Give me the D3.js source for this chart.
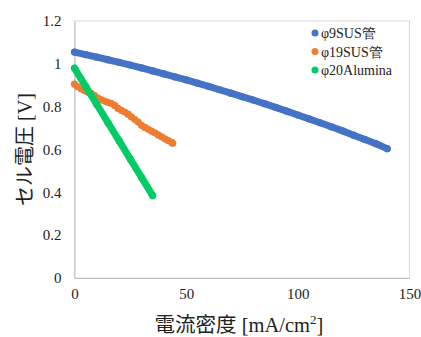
<!DOCTYPE html>
<html><head><meta charset="utf-8">
<script src="https://cdn.jsdelivr.net/npm/d3@7"></script>
<style>body{margin:0;background:#fff}
.serif{font-family:"Liberation Serif","Times New Roman",serif}
.jp{font-family:"Noto Sans CJK JP",sans-serif}
</style>
</head><body>
<svg id="c" width="421" height="337"></svg>
<script>
const seriesNames = ["φ9SUS管", "φ19SUS管", "φ20Alumina"];
const seriesColors = ["#4472C4", "#ED7D31", "#00CC66"];
const blueX = [0,5,10,15,20,25,30,35,40,45,50,55,60,65,70,75,80,85,90,95,100,105,110,115,120,125,130,135,140];
const blueY = [1.055,1.043,1.031,1.019,1.007,0.994,0.981,0.967,0.953,0.939,0.925,0.910,0.895,0.879,0.863,0.847,0.831,0.814,0.797,0.779,0.761,0.743,0.725,0.706,0.687,0.667,0.647,0.627,0.604];
const orangeX = [0,1.5,3,4.5,6,7.5,9,10.5,12,13.5,15,16.5,18,19.5,21,22.5,24,25.5,27,28.5,30,31.5,33,34.5,36,37.5,39,40.5,42,43.5,44];
const orangeY = [0.905,0.893,0.883,0.875,0.868,0.862,0.852,0.840,0.832,0.826,0.820,0.815,0.806,0.792,0.783,0.775,0.765,0.752,0.740,0.728,0.713,0.703,0.694,0.686,0.678,0.668,0.659,0.650,0.641,0.633,0.629];
const greenX = [0,5,10,15,20,25,30,35];
const greenY = [0.980,0.895,0.810,0.725,0.640,0.555,0.470,0.385];
const xTicks = [0,50,100,150];
const yTicks = [0,0.2,0.4,0.6,0.8,1,1.2];

const svg = d3.select("#c");
const L = 74.5, R = 409.5, T = 21, B = 278;
const x = d3.scaleLinear().domain([0,150]).range([L,R]);
const y = d3.scaleLinear().domain([0,1.2]).range([B,T]);

svg.append("rect").attr("x",L).attr("y",T).attr("width",R-L).attr("height",B-T)
  .attr("fill","none").attr("stroke","#d9d9d9").attr("stroke-width",1);

const xa = svg.append("g").attr("transform",`translate(0,${B})`)
  .call(d3.axisBottom(x).tickValues(xTicks).tickSize(0).tickPadding(10).tickFormat(d3.format("d")));
const ya = svg.append("g").attr("transform",`translate(${L},0)`)
  .call(d3.axisLeft(y).tickValues(yTicks).tickSize(0).tickPadding(13).tickFormat(d=>String(d)));
[xa,ya].forEach(a=>{
  a.attr("font-family",null).attr("font-size",null);
  a.select(".domain").attr("stroke","#bfbfbf");
  a.selectAll("text").attr("class","serif").style("font-size","15px").attr("fill","#222");
});

const sets = [[blueX,blueY],[orangeX,orangeY],[greenX,greenY]];
const line = d3.line().x(d=>x(d[0])).y(d=>y(d[1]));
sets.forEach(([xs,ys],k)=>{
  const pts = xs.map((v,i)=>[v,ys[i]]);
  svg.append("path").datum(pts).attr("d",line).attr("fill","none")
    .attr("stroke",seriesColors[k]).attr("stroke-width",k===1?5:7).attr("stroke-linecap","round");
  svg.append("g").selectAll("circle").data(pts).join("circle")
    .attr("cx",d=>x(d[0])).attr("cy",d=>y(d[1])).attr("r",3.6).attr("fill",seriesColors[k]);
});

// legend
seriesNames.forEach((n,i)=>{
  const cy = 33 + i*18.5;
  svg.append("circle").attr("cx",315).attr("cy",cy).attr("r",3.5).attr("fill",seriesColors[i]);
  svg.append("text").attr("x",321).attr("y",cy+5).text(n).attr("class","serif")
    .style("font-size","14px").attr("fill","#222");
});

// x title
const xt = svg.append("text").attr("x",(L+R)/2 - 3).attr("y",332).attr("text-anchor","middle")
  .style("font-size","20.5px").attr("fill","#222");
xt.append("tspan").attr("class","jp").text("電流密度");
xt.append("tspan").attr("class","serif").text(" [mA/cm");
xt.append("tspan").attr("class","serif").style("font-size","13px").attr("dy",-8).text("2");
xt.append("tspan").attr("class","serif").attr("dy",8).text("]");

// y title
const yt = svg.append("text").attr("transform",`translate(32,${(T+B)/2}) rotate(-90)`).attr("text-anchor","middle")
  .style("font-size","20px").attr("fill","#222");
yt.append("tspan").attr("class","jp").text("セル電圧");
yt.append("tspan").attr("class","serif").text(" [V]");
</script>
</body></html>
